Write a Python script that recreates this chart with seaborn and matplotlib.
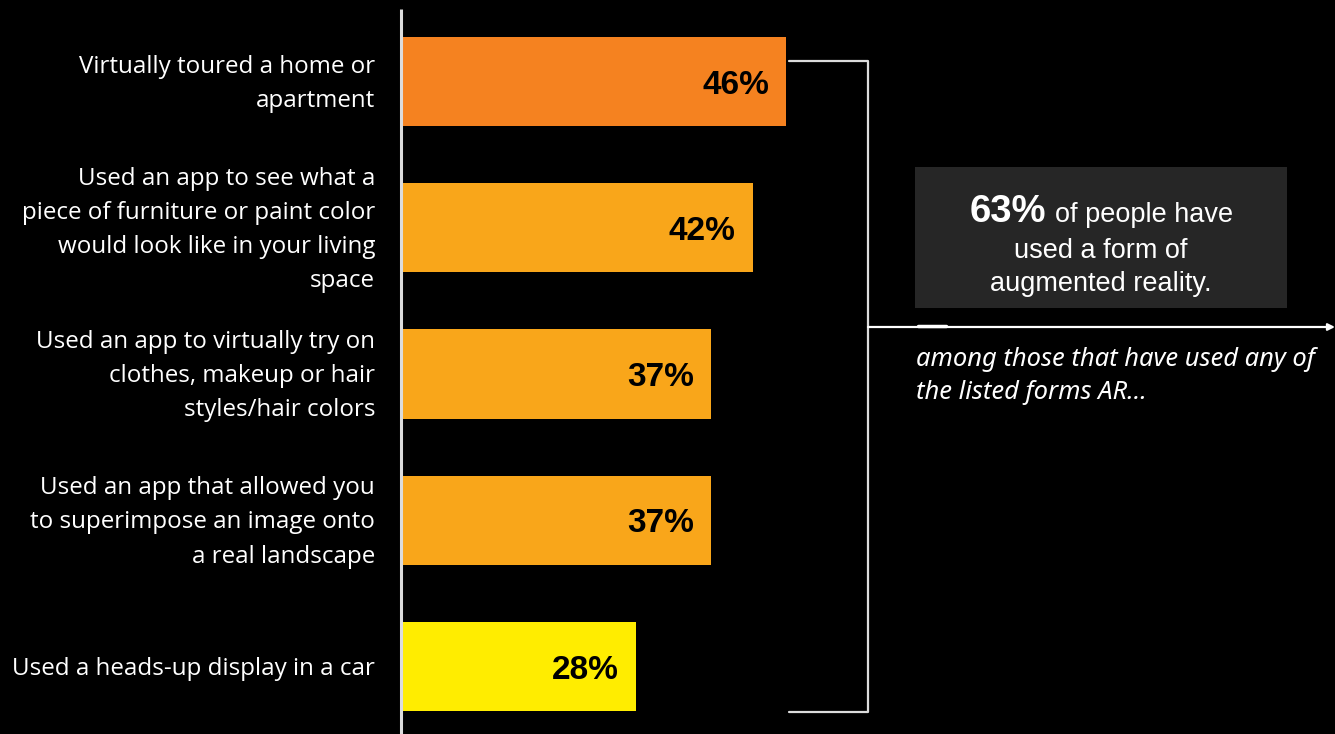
import matplotlib
matplotlib.use("Agg")
import matplotlib.pyplot as plt
import seaborn as sns
import pandas as pd
from matplotlib.patches import Rectangle

categories = [
    "Virtually toured a home or\napartment",
    "Used an app to see what a\npiece of furniture or paint color\nwould look like in your living\nspace",
    "Used an app to virtually try on\nclothes, makeup or hair\nstyles/hair colors",
    "Used an app that allowed you\nto superimpose an image onto\na real landscape",
    "Used a heads-up display in a car",
]
values = [46, 42, 37, 37, 28]
bar_colors = ["#F58220", "#F9A61A", "#F9A61A", "#F9A61A", "#FFED00"]
headline_value = "63%"
headline_text = ["of people have", "used a form of", "augmented reality."]
note_text = "among those that have used any of\nthe listed forms AR\u2026"

df = pd.DataFrame({"item": categories, "pct": values})

sns.set_theme(style="white")
plt.rcParams["font.family"] = ["Open Sans", "DejaVu Sans"]

W, H = 1335, 734
fig = plt.figure(figsize=(W / 100, H / 100), dpi=100, facecolor="black")
ax = fig.add_axes([0, 0, 1, 1])
ax.set_facecolor("black")

# pixel scale: x = 402 + 8.35 * pct ; bar centres 81.5 + 146.25 * i
px_per_pct = 8.35
x0 = 402
ax.set_xlim(-x0 / px_per_pct, (W - x0) / px_per_pct)

sns.barplot(data=df, x="pct", y="item", hue="item", palette=bar_colors,
            orient="h", width=0.61, legend=False, ax=ax, saturation=1,
            linewidth=0, edgecolor="none")
ax.set_xlim(-x0 / px_per_pct, (W - x0) / px_per_pct)
ax.set_ylim((H - 81.5) / 146.25, -81.5 / 146.25)
ax.axis("off")

for i, (lab, v) in enumerate(zip(categories, values)):
    ax.text(-27 / px_per_pct, i + 0.015, lab, ha="right", va="center",
            color="white", fontsize=17.4, linespacing=1.57)
    ax.text(v - 17 / px_per_pct, i + 0.025, f"{v}%", ha="right", va="center",
            color="black", fontsize=24, fontweight="bold",
            family="Liberation Sans")

# overlay in pixel coordinates for annotation furniture
ov = fig.add_axes([0, 0, 1, 1], facecolor="none")
ov.set_xlim(0, W)
ov.set_ylim(H, 0)
ov.axis("off")

line_c = "#dcdcdc"
ov.plot([401, 401], [9, H], color=line_c, lw=2.2, solid_capstyle="butt")

# bracket
ov.plot([789, 868, 868, 789], [61, 61, 712, 712], color=line_c, lw=1.6)
ov.annotate("", xy=(W, 327), xytext=(868, 327),
            arrowprops=dict(arrowstyle="-|>", color="white", lw=1.6,
                            mutation_scale=10, shrinkA=0, shrinkB=0))
ov.plot([918, 946], [326, 326], color="white", lw=2.5)

# callout box
ov.add_patch(Rectangle((915, 167), 372, 141, facecolor="#262626",
                       edgecolor="none"))
ov.text(1046, 222, headline_value, ha="right", va="baseline", color="white",
        fontsize=27.5, fontweight="bold", family="Liberation Sans")
ov.text(1055, 222, headline_text[0], ha="left", va="baseline", color="white",
        fontsize=19.5, family="Liberation Sans")
ov.text(1101, 258, headline_text[1], ha="center", va="baseline",
        color="white", fontsize=19.5, family="Liberation Sans")
ov.text(1101, 291, headline_text[2], ha="center", va="baseline",
        color="white", fontsize=19.5, family="Liberation Sans")

ov.text(916, 376, note_text, ha="left", va="center", color="white",
        fontsize=18.4, style="italic", linespacing=1.45,
        family=["Noto Sans", "DejaVu Sans"])

fig.savefig("out.png", dpi=100, facecolor="black")
